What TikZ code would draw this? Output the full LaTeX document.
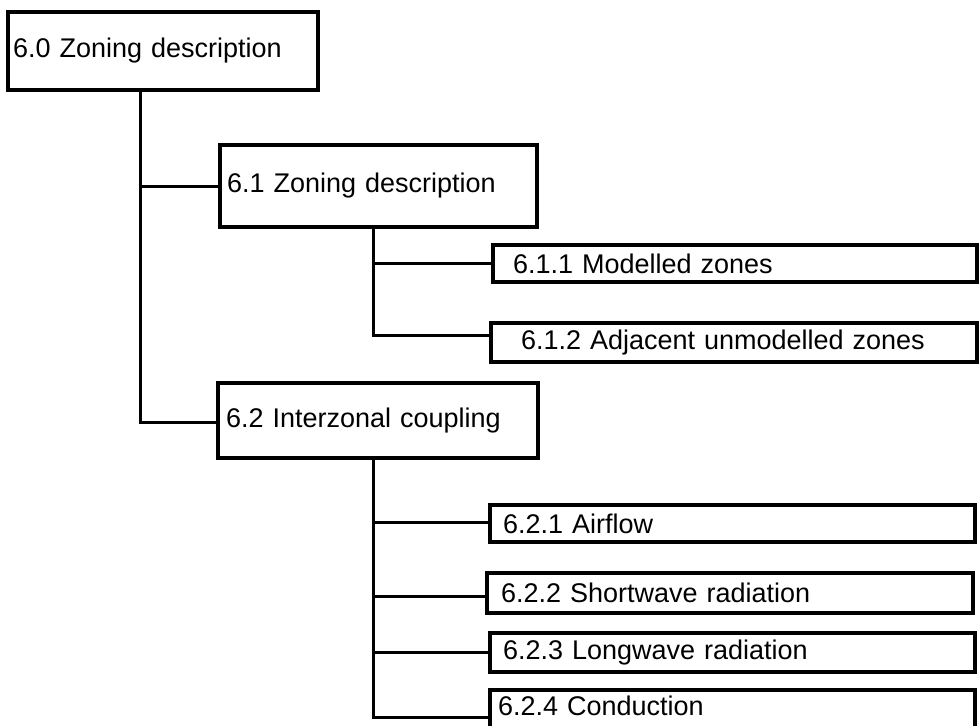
\documentclass[tikz,border=0pt]{standalone}
\usepackage{fontspec}
\setmainfont{Liberation Sans}
\tikzset{
  box/.style={draw, rectangle, line width=3.3pt, line join=miter, anchor=north west,
    outer sep=0pt, inner ysep=0pt, align=left,
    font=\fontsize{27}{30}\selectfont},
  conn/.style={draw, line width=3pt, line cap=rect}
}
\begin{document}
\begin{tikzpicture}[x=1pt,y=-1pt]
\useasboundingbox (0,0) rectangle (979,725);
\clip (0,0) rectangle (979,725);
% boxes
\node[box, minimum width=310pt, minimum height=78pt, inner xsep=5pt, text width=300pt] (n60) at (8,12) {6.0 Zoning description};
\node[box, minimum width=317pt, minimum height=82pt, inner xsep=7pt, text width=303pt] (n61) at (220,145) {6.1 Zoning description};
\node[box, minimum width=320pt, minimum height=75pt, inner xsep=8pt, text width=304pt] (n62) at (218,383) {6.2 Interzonal coupling};
\node[box, minimum width=484pt, minimum height=37pt, inner xsep=20pt, text width=444pt] (n611) at (493,245) {6.1.1 Modelled zones};
\node[box, minimum width=486pt, minimum height=39pt, inner xsep=30pt, text width=426pt] (n612) at (491,323) {6.1.2 Adjacent unmodelled zones};
\node[box, minimum width=485pt, minimum height=37pt, inner xsep=13pt, text width=459pt] (n621) at (490,505) {6.2.1 Airflow};
\node[box, minimum width=486pt, minimum height=40pt, inner xsep=14pt, text width=458pt] (n622) at (487,573) {6.2.2 Shortwave radiation};
\node[box, minimum width=485pt, minimum height=39pt, inner xsep=13pt, text width=459pt] (n623) at (490,633) {6.2.3 Longwave radiation};
\node[box, minimum width=485pt, minimum height=44pt, inner xsep=8pt, text width=469pt, text depth=12pt] (n624) at (490,690) {6.2.4 Conduction};
% connectors
\coordinate (j0) at ([xshift=132pt]n60.south west);
\coordinate (j1) at ([xshift=153pt]n61.south west);
\coordinate (j2) at ([xshift=155pt]n62.south west);
\draw[conn] (j0) |- (n61.west);
\draw[conn] (j0) |- ([yshift=-1.5pt]n62.west);
\draw[conn] (j1) |- (n611.west);
\draw[conn] (j1) |- ([yshift=7.5pt]n612.west);
\draw[conn] (j2) |- ([yshift=1.5pt]n621.west);
\draw[conn] (j2) |- ([yshift=-3pt]n622.west);
\draw[conn] (j2) |- (n623.west);
\draw[conn] (j2) |- ([yshift=-5pt]n624.west);
\end{tikzpicture}
\end{document}
